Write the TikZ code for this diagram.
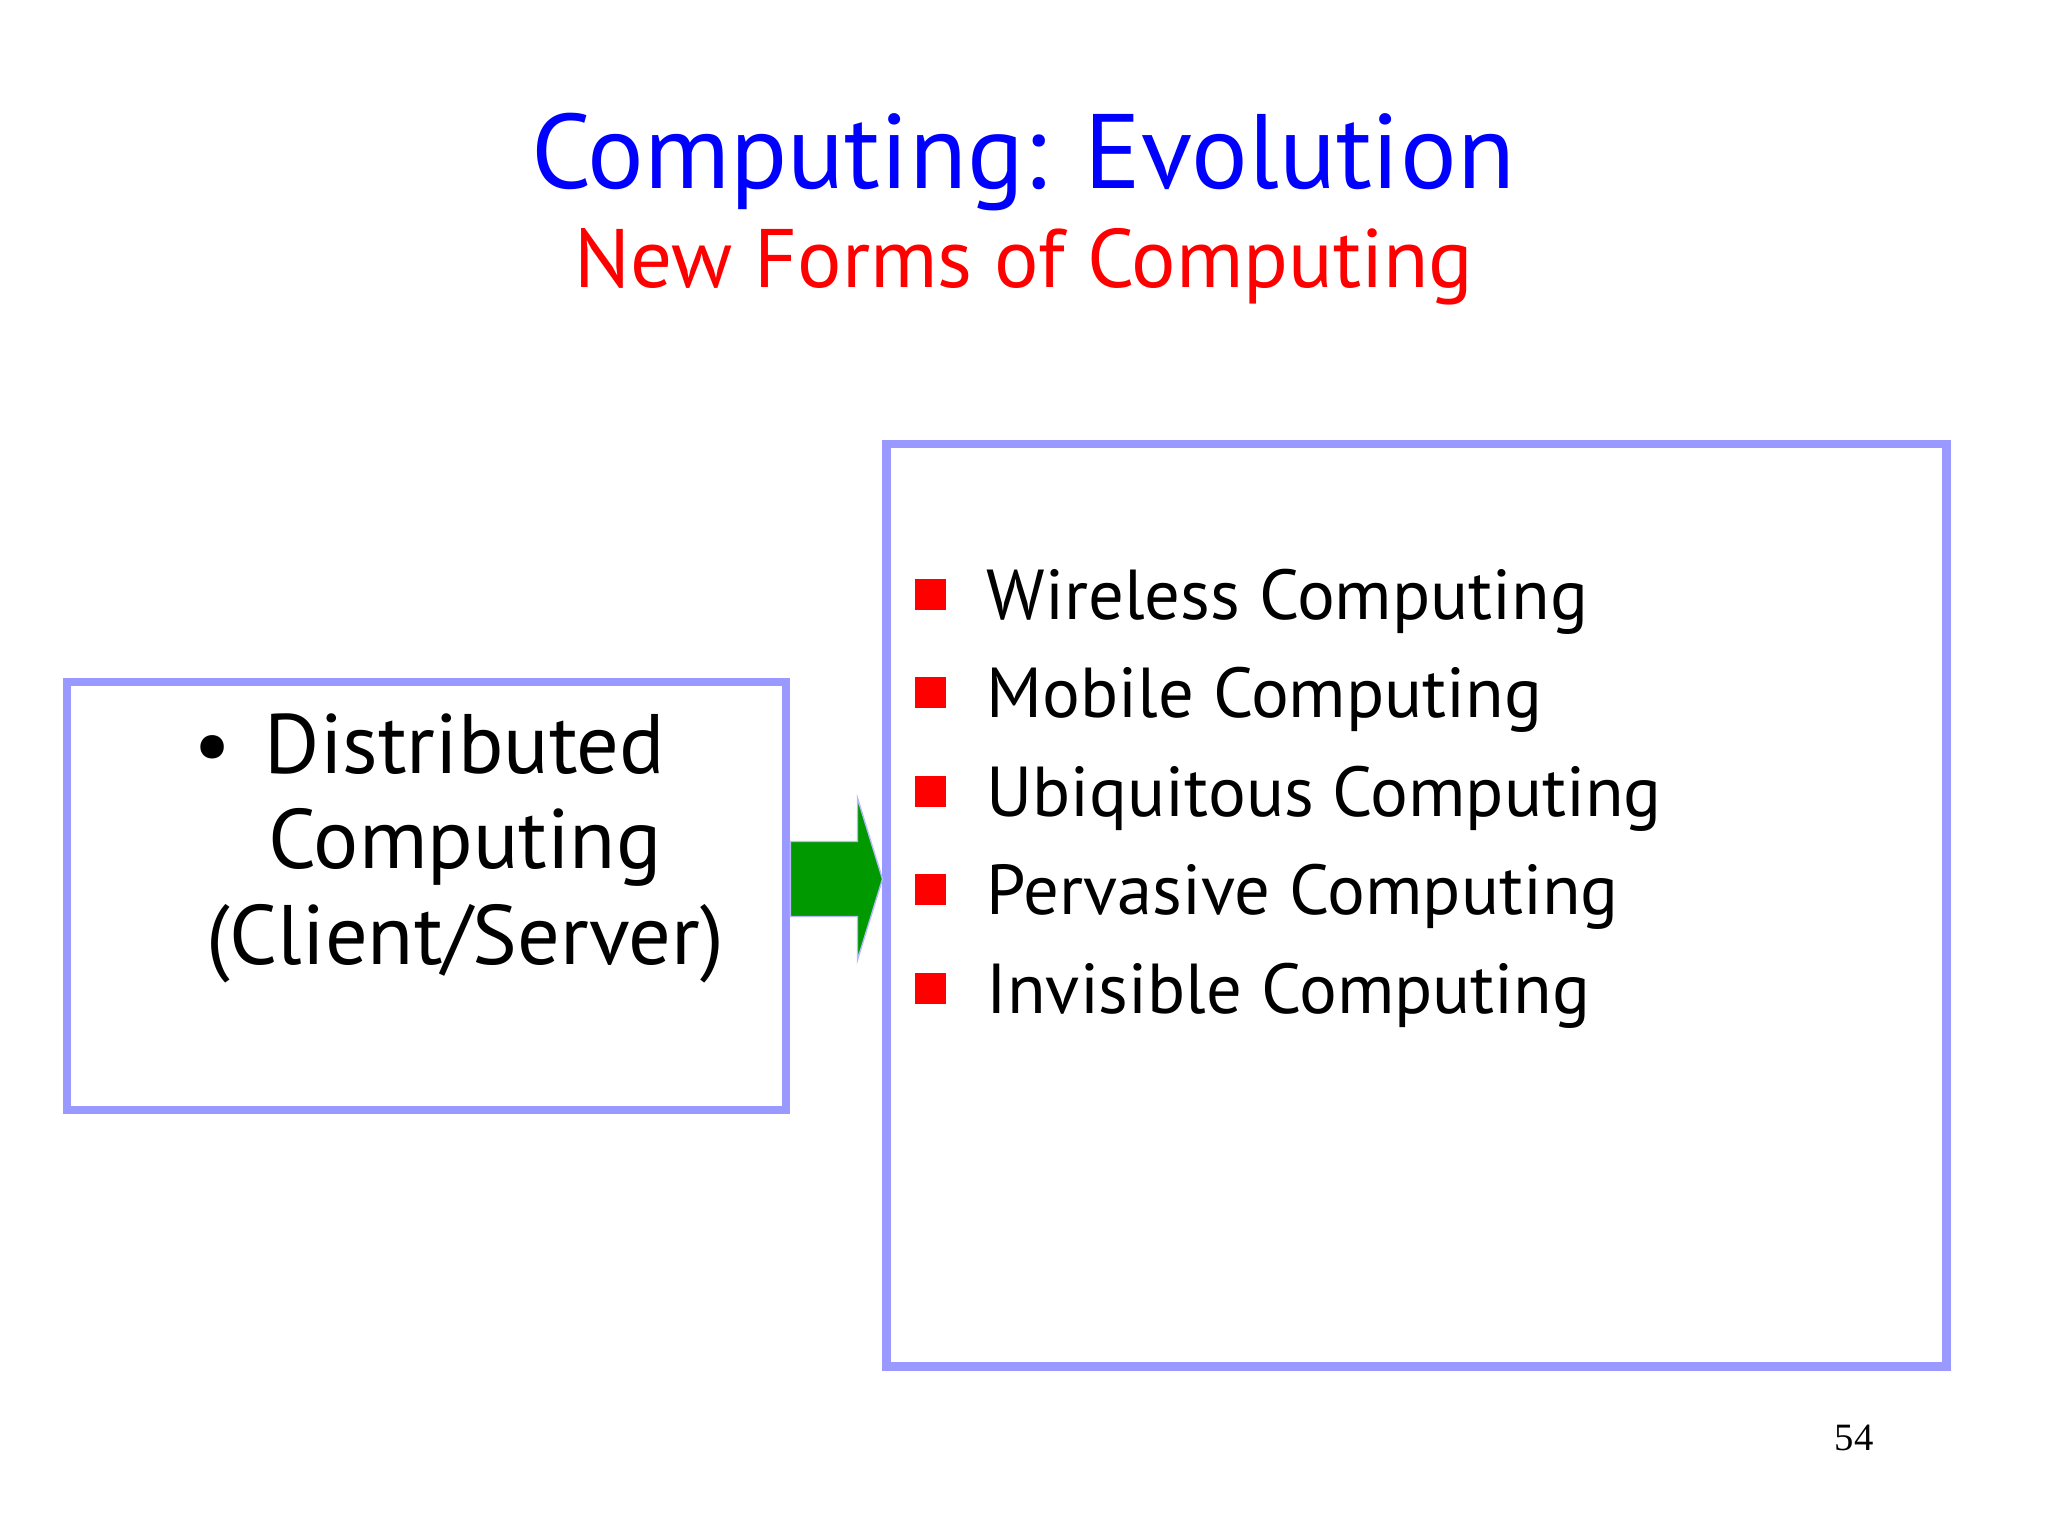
\documentclass[tikz,border=0pt]{standalone}
\usepackage{fontspec}
\setmainfont{PT Sans}
\newfontfamily\pagenofont{Liberation Serif}
\usetikzlibrary{positioning,calc}
\definecolor{titleblue}{RGB}{0,0,255}
\definecolor{slidered}{RGB}{255,0,0}
\definecolor{boxline}{RGB}{153,153,255}
\definecolor{arrowgreen}{RGB}{0,153,0}

\begin{document}
\begin{tikzpicture}[x=0.01cm,y=-0.01cm,
    frame/.style={draw=boxline,line width=2.4pt,inner sep=0pt},
    line/.style={anchor=base,inner sep=0pt},
    item/.style={anchor=base west,inner sep=0pt,font=\fontsize{20.1}{24}\selectfont},
    redsq/.style={fill=slidered,minimum size=0.31cm,inner sep=0pt}]
  \useasboundingbox (0,0) rectangle (2048,1536);

  \node[line,text=titleblue,font=\fontsize{30.1}{34}\selectfont] (title) at (1023,188) {Computing: Evolution};
  \node[line,text=slidered,font=\fontsize{23.6}{28}\selectfont] (subtitle) at (1024,287) {New Forms of Computing};

  \node[frame,minimum width=7.19cm,minimum height=4.28cm] (distbox) at (426.5,896) {};
  \node[frame,minimum width=10.59cm,minimum height=9.22cm] (formsbox) at (1416.5,905) {};

  % left box
  \node[line,font=\fontsize{24}{28}\selectfont] (dist1) at (465,773) {Distributed};
  \node[line,font=\fontsize{24}{28}\selectfont] (dist2) at (465,868) {Computing};
  \node[line,font=\fontsize{24}{28}\selectfont] (dist3) at (465,964) {(Client/Server)};
  \node[line,font=\fontsize{24}{28}\selectfont] (distdot) at (213,773) {\textbullet};

  % right box
  \foreach \txt [count=\i] in {Wireless Computing,Mobile Computing,Ubiquitous Computing,Pervasive Computing,Invisible Computing} {
    \node[item] (item\i) at (986,{619+98.6*(\i-1)}) {\txt};
    \node[redsq] (sq\i) at (930,{594+98.6*(\i-1)}) {};
  }

  \coordinate (arrowlevel) at (0,879);
  \coordinate (tail) at (distbox.east |- arrowlevel);
  \coordinate (tip) at (formsbox.west |- arrowlevel);
  \filldraw[fill=arrowgreen,draw=boxline!70,line width=0.4pt]
    ($(tail)+(0,-37.5)$) -- ($(tip)+(-25,-37.5)$) -- ($(tip)+(-25,-81)$) -- (tip)
    -- ($(tip)+(-25,81)$) -- ($(tip)+(-25,37.5)$) -- ($(tail)+(0,37.5)$) -- cycle;

  \node[line,font=\pagenofont\fontsize{11}{13}\selectfont] (pageno) at (1854,1450) {54};
\end{tikzpicture}
\end{document}
